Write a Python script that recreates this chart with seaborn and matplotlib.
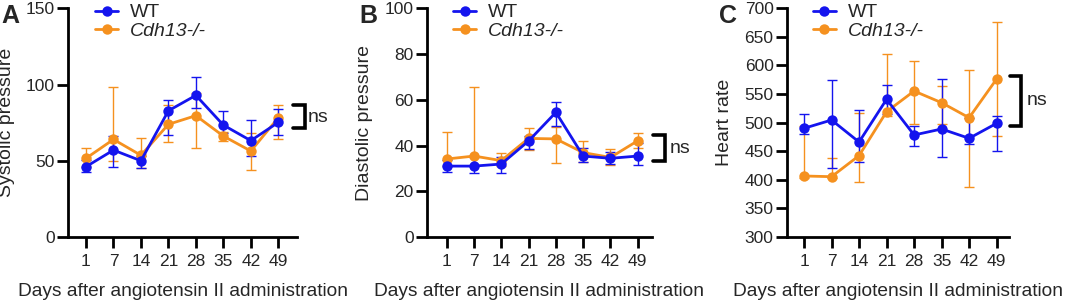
import numpy as np
import pandas as pd
import matplotlib
matplotlib.use("Agg")
import matplotlib.pyplot as plt
import seaborn as sns

# Days after angiotensin II administration
days = [1, 7, 14, 21, 28, 35, 42, 49]
groups = ["WT", "Cdh13-/-"]

# Systolic pressure (mean, lower / upper error bar ends)
sys_wt = [46.1, 57.0, 50.0, 82.8, 92.9, 73.4, 63.2, 75.2]
sys_wt_lo = [42.4, 46.1, 45.0, 67.1, 84.4, 68.0, 53.1, 66.9]
sys_wt_hi = [50.5, 66.0, 53.0, 89.8, 104.7, 82.8, 76.7, 84.0]
sys_ko = [51.6, 64.0, 53.6, 73.9, 79.6, 66.2, 56.4, 78.2]
sys_ko_lo = [46.0, 50.0, 45.0, 62.5, 58.6, 63.0, 43.9, 64.3]
sys_ko_hi = [58.6, 98.6, 65.1, 86.6, 94.2, 69.0, 68.0, 86.8]

# Diastolic pressure
dia_wt = [31.0, 31.0, 31.9, 42.0, 54.5, 35.4, 34.4, 35.4]
dia_wt_lo = [28.5, 28.0, 28.0, 38.5, 48.5, 33.0, 32.0, 31.5]
dia_wt_hi = [33.5, 35.0, 35.0, 44.0, 59.2, 39.0, 37.0, 41.0]
dia_ko = [34.1, 35.4, 33.4, 43.1, 42.9, 36.9, 34.8, 42.1]
dia_ko_lo = [31.0, 31.0, 31.0, 38.0, 32.5, 33.0, 31.5, 39.0]
dia_ko_hi = [46.0, 65.4, 36.9, 47.8, 48.0, 42.0, 38.3, 45.6]

# Heart rate
hr_wt = [490.1, 504.6, 466.1, 540.8, 478.4, 488.9, 472.6, 498.8]
hr_wt_lo = [480.0, 420.0, 432.0, 515.0, 460.0, 439.4, 462.0, 451.0]
hr_wt_hi = [514.6, 574.6, 522.0, 565.8, 494.0, 575.8, 508.0, 511.6]
hr_ko = [406.7, 405.5, 442.3, 519.1, 555.3, 534.9, 508.6, 576.3]
hr_ko_lo = [403.0, 403.0, 396.0, 512.0, 497.0, 497.0, 388.0, 476.6]
hr_ko_hi = [495.0, 439.0, 516.3, 619.5, 608.4, 564.6, 592.0, 676.0]

colors = {"WT": "#1414ee", "Cdh13-/-": "#f5911f"}

sns.set_style("ticks")
plt.rcParams["font.family"] = ["Liberation Sans", "DejaVu Sans"]


def make_frame(wt, wt_lo, wt_hi, ko, ko_lo, ko_hi):
    rows = []
    for g, m, lo, hi in [("WT", wt, wt_lo, wt_hi), ("Cdh13-/-", ko, ko_lo, ko_hi)]:
        for i, d in enumerate(days):
            rows.append({"pos": i, "day": d, "group": g,
                         "mean": m[i], "lo": lo[i], "hi": hi[i]})
    return pd.DataFrame(rows)


panels = [
    dict(letter="A", df=make_frame(sys_wt, sys_wt_lo, sys_wt_hi, sys_ko, sys_ko_lo, sys_ko_hi),
         ylabel="Systolic pressure", ylim=(0, 150), yticks=np.arange(0, 151, 50),
         rect=[68.3, 296.7], xlim=(-0.644, 7.67),
         br=(7.54, 7.97, 71.5, 86.8), ns=(8.08, 78.7)),
    dict(letter="B", df=make_frame(dia_wt, dia_wt_lo, dia_wt_hi, dia_ko, dia_ko_lo, dia_ko_hi),
         ylabel="Diastolic pressure", ylim=(0, 100), yticks=np.arange(0, 101, 20),
         rect=[426.7, 651.7], xlim=(-0.733, 7.51),
         br=(7.56, 8.0, 33.2, 44.6), ns=(8.18, 38.5)),
    dict(letter="C", df=make_frame(hr_wt, hr_wt_lo, hr_wt_hi, hr_ko, hr_ko_lo, hr_ko_hi),
         ylabel="Heart rate", ylim=(300, 700), yticks=np.arange(300, 701, 50),
         rect=[786.7, 1009.0], xlim=(-0.63, 7.45),
         br=(7.49, 7.9, 494.8, 581.6), ns=(8.1, 539.6)),
]

W, H = 1065, 302
fig = plt.figure(figsize=(W / 100, H / 100), dpi=100)

for p in panels:
    x0, x1 = p["rect"]
    ax = fig.add_axes([x0 / W, 1 - 237 / H, (x1 - x0) / W, (237 - 8.3) / H])
    df = p["df"]

    # orange first so WT sits on top
    for g in ["Cdh13-/-", "WT"]:
        sub = df[df["group"] == g]
        ax.errorbar(sub["pos"], sub["mean"],
                    yerr=[sub["mean"] - sub["lo"], sub["hi"] - sub["mean"]],
                    fmt="none", ecolor=colors[g], elinewidth=1.0,
                    capsize=3.6, capthick=1.0, zorder=2)
        sns.lineplot(data=sub, x="pos", y="mean", color=colors[g], marker="o",
                     markersize=7.5, markeredgewidth=0, linewidth=2.0,
                     label=g, ax=ax, zorder=3)

    handles, labels = ax.get_legend_handles_labels()
    leg = ax.legend(handles[::-1], labels[::-1], loc="upper left",
                    bbox_to_anchor=(0.117, 1.02), frameon=False, fontsize=14,
                    borderpad=0, borderaxespad=0, handlelength=1.2,
                    handletextpad=0.6, labelspacing=0.05)
    leg.get_texts()[1].set_fontstyle("italic")

    ax.set_xlim(*p["xlim"])
    ax.set_ylim(*p["ylim"])
    ax.set_xticks(range(len(days)))
    ax.set_xticklabels([str(d) for d in days])
    ax.set_yticks(p["yticks"])
    ax.tick_params(axis="both", labelsize=12.5, width=2, length=8, color="black")
    ax.tick_params(axis="y", pad=1.5)
    ax.tick_params(axis="x", pad=4)
    ax.set_ylabel(p["ylabel"], fontsize=14, labelpad=8)
    ax.set_xlabel("Days after angiotensin II administration", fontsize=13.8, labelpad=10.5)
    for s in ["left", "bottom"]:
        ax.spines[s].set_linewidth(2)
        ax.spines[s].set_color("black")
    sns.despine(ax=ax)

    # ns bracket
    bx0, bx1, by0, by1 = p["br"]
    ax.plot([bx0, bx1, bx1, bx0], [by1, by1, by0, by0], color="black",
            linewidth=2.6, clip_on=False, solid_joinstyle="miter")
    ax.text(p["ns"][0], p["ns"][1], "ns", fontsize=14, ha="left", va="center",
            clip_on=False)

    # panel letter
    fig.text((x0 - 68.3 + 1) / W, 1 - 4 / H, p["letter"], fontsize=18,
             fontweight="bold", ha="left", va="top")

fig.savefig("out.png", dpi=100)
